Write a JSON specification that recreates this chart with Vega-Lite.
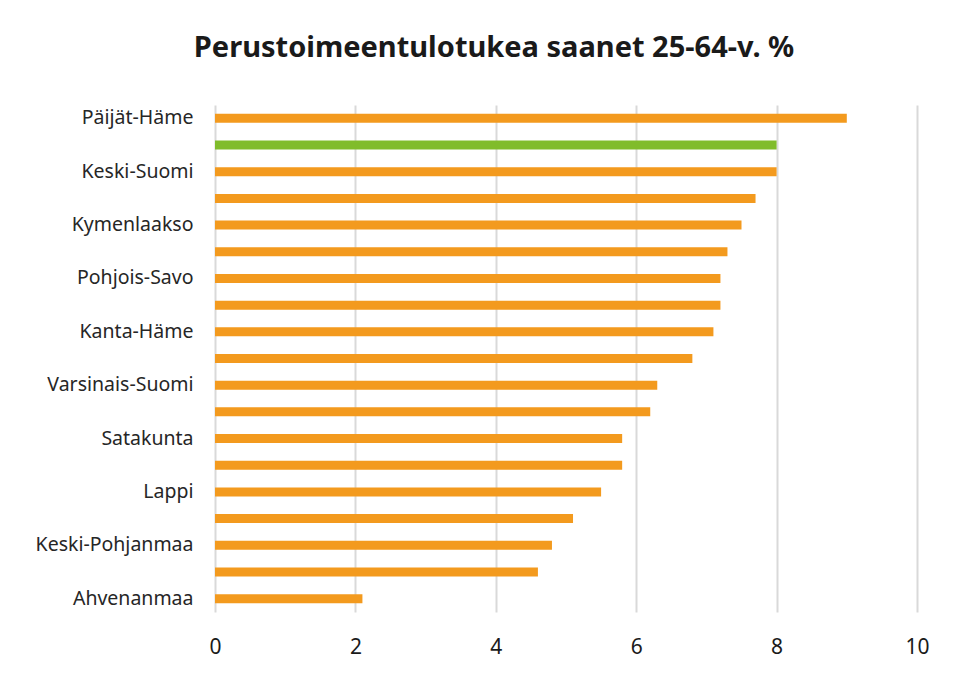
{
  "$schema": "https://vega.github.io/schema/vega-lite/v6.json",
  "width": 702,
  "height": 507,
  "padding": {"left": 35, "top": 34, "right": 10, "bottom": 5},
  "background": "white",
  "title": {
    "text": "Perustoimeentulotukea saanet 25-64-v. %",
    "font": "Noto Sans",
    "fontSize": 29,
    "fontWeight": "bold",
    "color": "#1a1a1a",
    "anchor": "middle",
    "frame": "bounds",
    "offset": 42,
    "dx": 12
  },
  "data": {
    "values": [
      {"alue": "Päijät-Häme", "arvo": 9.0, "ryhma": "alue"},
      {"alue": "Koko maa", "arvo": 8.0, "ryhma": "koko"},
      {"alue": "Keski-Suomi", "arvo": 8.0, "ryhma": "alue"},
      {"alue": "Etelä-Savo", "arvo": 7.7, "ryhma": "alue"},
      {"alue": "Kymenlaakso", "arvo": 7.5, "ryhma": "alue"},
      {"alue": "Pohjois-Karjala", "arvo": 7.3, "ryhma": "alue"},
      {"alue": "Pohjois-Savo", "arvo": 7.2, "ryhma": "alue"},
      {"alue": "Uusimaa", "arvo": 7.2, "ryhma": "alue"},
      {"alue": "Kanta-Häme", "arvo": 7.1, "ryhma": "alue"},
      {"alue": "Etelä-Karjala", "arvo": 6.8, "ryhma": "alue"},
      {"alue": "Varsinais-Suomi", "arvo": 6.3, "ryhma": "alue"},
      {"alue": "Pirkanmaa", "arvo": 6.2, "ryhma": "alue"},
      {"alue": "Satakunta", "arvo": 5.8, "ryhma": "alue"},
      {"alue": "Kainuu", "arvo": 5.8, "ryhma": "alue"},
      {"alue": "Lappi", "arvo": 5.5, "ryhma": "alue"},
      {"alue": "Pohjois-Pohjanmaa", "arvo": 5.1, "ryhma": "alue"},
      {"alue": "Keski-Pohjanmaa", "arvo": 4.8, "ryhma": "alue"},
      {"alue": "Etelä-Pohjanmaa", "arvo": 4.6, "ryhma": "alue"},
      {"alue": "Ahvenanmaa", "arvo": 2.1, "ryhma": "alue"}
    ]
  },
  "mark": {"type": "bar", "height": 9},
  "encoding": {
    "y": {
      "field": "alue",
      "type": "nominal",
      "sort": null,
      "title": null,
      "scale": {"paddingInner": 0, "paddingOuter": 0},
      "axis": {
        "domain": false,
        "ticks": false,
        "grid": false,
        "labelPadding": 22,
        "labelFont": "Noto Sans",
        "labelFontSize": 19.5,
        "labelColor": "#262626",
        "labelExpr": "indexof(['Päijät-Häme','Keski-Suomi','Kymenlaakso','Pohjois-Savo','Kanta-Häme','Varsinais-Suomi','Satakunta','Lappi','Keski-Pohjanmaa','Ahvenanmaa'], datum.value) >= 0 ? datum.value : ''"
      }
    },
    "x": {
      "field": "arvo",
      "type": "quantitative",
      "title": null,
      "scale": {"domain": [0, 10], "nice": false},
      "axis": {
        "values": [0, 2, 4, 6, 8, 10],
        "domain": false,
        "ticks": false,
        "grid": true,
        "gridColor": "#d9d9d9",
        "gridWidth": 2,
        "labelFlush": false,
        "labelPadding": 24,
        "labelFont": "Noto Sans",
        "labelFontSize": 21,
        "labelColor": "#1a1a1a"
      }
    },
    "color": {
      "field": "ryhma",
      "type": "nominal",
      "scale": {"domain": ["alue", "koko"], "range": ["#f39a1e", "#80bc2b"]},
      "legend": null
    }
  },
  "config": {"view": {"stroke": null}}
}
